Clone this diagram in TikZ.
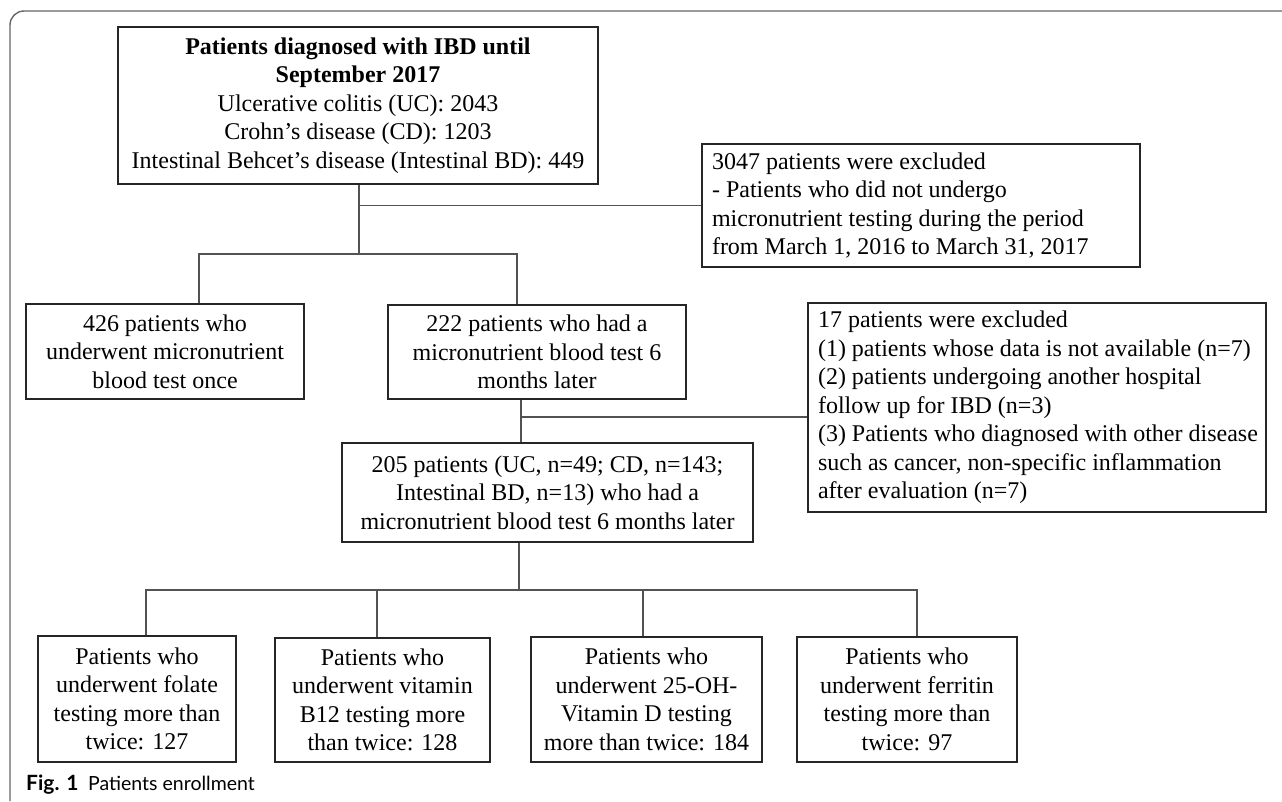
\documentclass[tikz,border=0pt]{standalone}
\usepackage{fontspec}
\setmainfont{Liberation Serif}
\newfontfamily\capfont{Lato}
\newcommand{\oneline}[1]{\mbox{#1}}
\begin{document}
\begin{tikzpicture}[x=1pt,y=-1pt,
  box/.style={draw=black!85, line width=1.5pt, align=center, inner sep=0pt,
    font=\fontsize{24}{28.5}\selectfont, anchor=center},
  lbox/.style={box, align=flush left, inner xsep=10pt},
  conn/.style={draw=black!68, line width=1.2pt},
  frame/.style={draw=black!60, line width=1.4pt}]
\useasboundingbox (0,0) rectangle (1282,801);
\draw[frame, rounded corners=14pt] (10,801) -- (10,11) -- (1282,11);

\node[box, minimum width=480pt, minimum height=157pt] (top) at (358,105.5)
  {\textbf{Patients diagnosed with IBD until}\\\textbf{September 2017}\\Ulcerative colitis (UC): 2043\\Crohn's disease (CD): 1203\\Intestinal Behcet's disease (Intestinal BD): 449};
\node[lbox, text width=418pt, minimum height=123pt] (ex1) at (921,205.5)
  {\oneline{3047 patients were excluded}\\\oneline{- Patients who did not undergo}\\\oneline{micronutrient testing during the period}\\\oneline{from March 1, 2016 to March 31, 2017}};
\node[box, minimum width=278pt, minimum height=95pt] (b426) at (165,351.5)
  {426 patients who\\underwent micronutrient\\blood test once};
\node[box, minimum width=298pt, minimum height=94pt] (b222) at (537,352)
  {222 patients who had a\\micronutrient blood test 6\\months later};
\node[lbox, text width=438pt, minimum height=209pt] (ex2) at (1037,407.5)
  {\oneline{17 patients were excluded}\\\oneline{(1) patients whose data is not available (n=7)}\\\oneline{(2) patients undergoing another hospital}\\\oneline{follow up for IBD (n=3)}\\\oneline{(3) Patients who diagnosed with other disease}\\\oneline{such as cancer, non-specific inflammation}\\\oneline{after evaluation (n=7)}};
\node[box, minimum width=411pt, minimum height=99pt] (b205) at (547.5,492.5)
  {205 patients (UC, n=49; CD, n=143;\\Intestinal BD, n=13) who had a\\micronutrient blood test 6 months later};
\node[box, minimum width=198pt, minimum height=126pt] (f1) at (137,699)
  {Patients who\\underwent folate\\testing more than\\twice: 127};
\node[box, minimum width=215pt, minimum height=124pt] (f2) at (382.5,700)
  {Patients who\\underwent vitamin\\B12 testing more\\than twice: 128};
\node[box, minimum width=231pt, minimum height=125pt] (f3) at (646.5,699.5)
  {Patients who\\underwent 25-OH-\\Vitamin D testing\\more than twice: 184};
\node[box, minimum width=220pt, minimum height=125pt] (f4) at (907,699.5)
  {Patients who\\underwent ferritin\\testing more than\\twice: 97};

\node[anchor=base west, inner sep=0pt, font=\capfont\fontsize{19.5}{22}\selectfont] (cap) at (26,790)
  {{\fontsize{21}{22}\selectfont\bfseries Fig. 1}\hspace{0.5em}Patients enrollment};

% junctions
\coordinate (ja) at (359,254);
\coordinate (jl) at (199,254);
\coordinate (jr) at (517,254);
\coordinate (jb) at (521,417);
\coordinate (jc) at (519,590);
\coordinate (c1) at (146,590);
\coordinate (c2) at (377,590);
\coordinate (c3) at (643,590);
\coordinate (c4) at (917,590);

\draw[conn] (top.south -| ja) -- (ja);
\draw[conn] (top.south -| ja) |- (ex1.west);
\draw[conn] (jl |- b426.north) -- (jl) -- (jr) -- (jr |- b222.north);
\draw[conn] (b222.south -| jb) -- (b205.north -| jb);
\draw[conn] (jb) -- (jb -| ex2.west);
\draw[conn] (b205.south -| jc) -- (jc);
\draw[conn] (c1 |- f1.north) -- (c1) -- (c4) -- (c4 |- f4.north);
\draw[conn] (c2) -- (c2 |- f2.north);
\draw[conn] (c3) -- (c3 |- f3.north);
\end{tikzpicture}
\end{document}
